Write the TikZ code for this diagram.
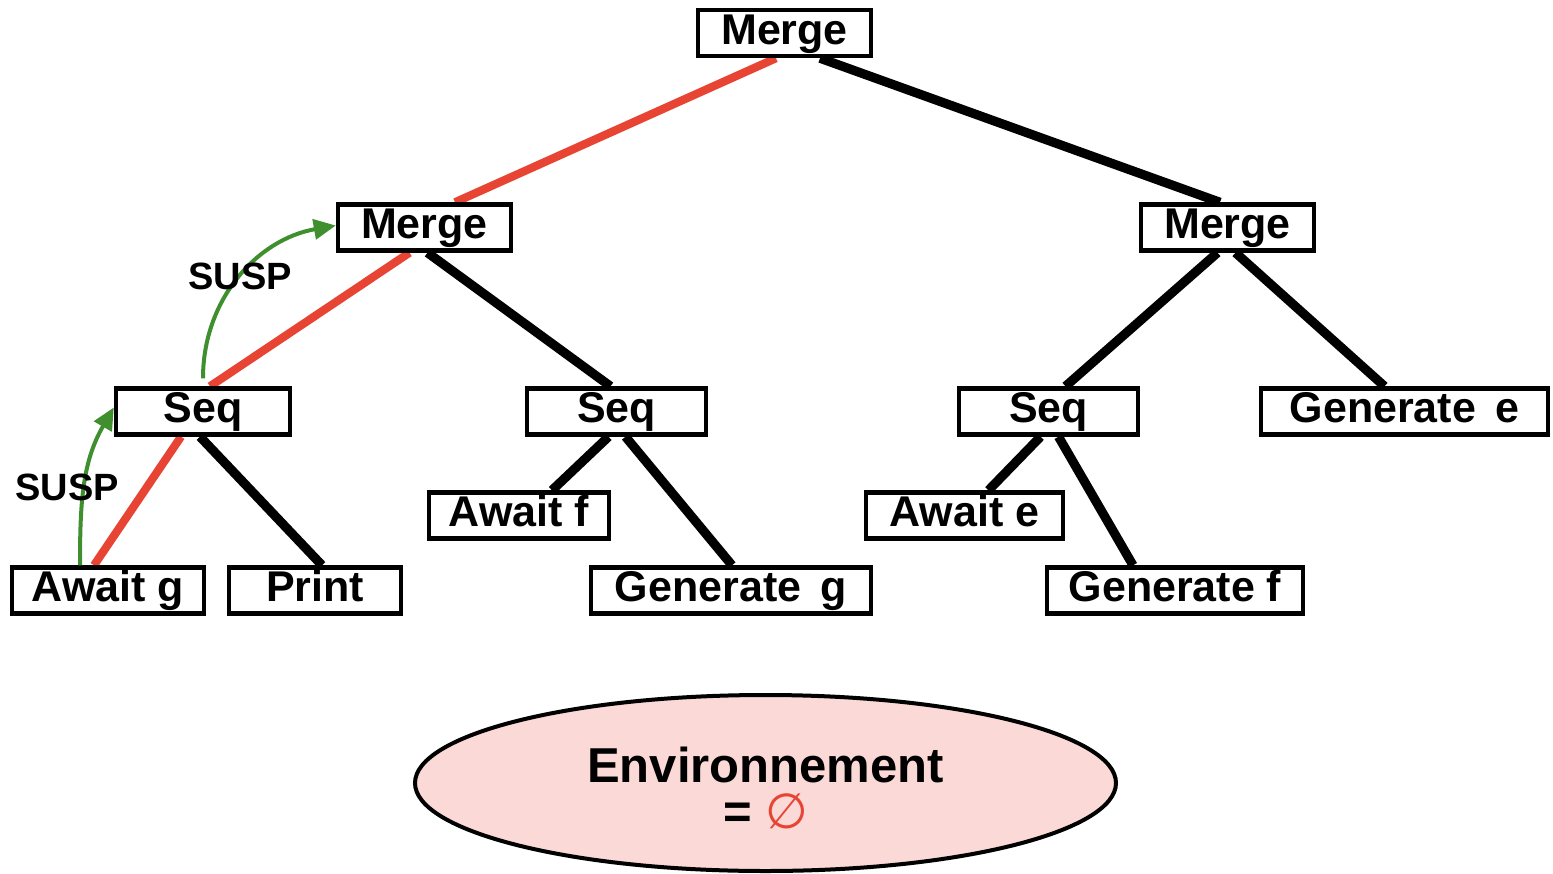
\documentclass[tikz,border=0pt]{standalone}
\usepackage{fontspec}
\setmainfont{Liberation Sans}
\newfontfamily\symfont{DejaVu Sans}
\usetikzlibrary{shapes.geometric,arrows.meta,calc,backgrounds}
\definecolor{edgered}{HTML}{E84434}
\definecolor{suspgreen}{HTML}{3F8F2F}
\definecolor{envpink}{HTML}{FAD9D7}
\begin{document}
\begin{tikzpicture}[x=0.5pt,y=-0.5pt,
  box/.style={draw, line width=2.2pt, fill=white, inner sep=0pt,
    minimum height=23pt, text height=16pt, text depth=5pt,
    font=\bfseries\fontsize{21.5}{24}\selectfont},
  treeedge/.style={line width=4.6pt},
  hotedge/.style={line width=4.1pt, draw=edgered},
  susp/.style={line width=2pt, draw=suspgreen, -{Triangle[length=11pt,width=10pt]}},
  susplabel/.style={inner sep=0pt, font=\bfseries\fontsize{19}{22}\selectfont},
  env/.style={ellipse, draw, line width=2pt, fill=envpink, inner sep=0pt,
    minimum width=350.5pt, minimum height=88pt, align=center,
    font=\bfseries\fontsize{24.5}{23}\selectfont}]
\useasboundingbox (0,0) rectangle (1553,873);

% nodes
\node[box, minimum width=86.5pt] (mt) at (784.5,33) {Merge};
\node[box, minimum width=86.5pt] (ml) at (424.5,227.5) {Merge};
\node[box, minimum width=86.5pt] (mr) at (1227.5,227.5) {Merge};
\node[box, minimum width=87pt] (s1) at (203,411.5) {Seq};
\node[box, minimum width=89.5pt] (s2) at (616.5,411.5) {Seq};
\node[box, minimum width=89.5pt] (s3) at (1048.5,411.5) {Seq};
\node[box, minimum width=143.5pt] (ge) at (1404.5,411.5) {Generate\hspace{0.45em}e};
\node[box, minimum width=96pt] (ag) at (108,590.5) {Await g};
\node[box, minimum width=86pt] (pr) at (315,590.5) {Print};
\node[box, minimum width=90pt] (af) at (519,515.5) {Await f};
\node[box, minimum width=140pt] (gg) at (731,590.5) {Generate\hspace{0.45em}g};
\node[box, minimum width=98.5pt] (ae) at (964.5,515.5) {Await e};
\node[box, minimum width=128pt] (gf) at (1175,590.5) {Generate f};

\node[env] (env) at (765.5,783) {\rule{0pt}{23pt}Environnement\\= {\mdseries\symfont\color{edgered}∅}};

% tree edges
\begin{scope}[on background layer]
\draw[hotedge] ($(mt.south)+(-8.5,0)$) -- ($(ml.north)+(30.5,0)$);
\draw[treeedge] ($(mt.south)+(35.5,0)$) -- ($(mr.north)+(-7.5,0)$);
\draw[hotedge] ($(ml.south)+(-15,0)$) -- ($(s1.north)+(7,0)$);
\draw[treeedge] ($(ml.south)+(3,0)$) -- ($(s2.north)+(-6,0)$);
\draw[hotedge] ($(s1.south)+(-22,0)$) -- ($(ag.north)+(-14,0)$);
\draw[treeedge] ($(s1.south)+(-3,0)$) -- ($(pr.north)+(7,0)$);
\draw[treeedge] ($(s2.south)+(-8,0)$) -- ($(af.north)+(33,0)$);
\draw[treeedge] ($(s2.south)+(9,0)$) -- ($(gg.north)+(1,0)$);
\draw[treeedge] ($(mr.south)+(-10,0)$) -- ($(s3.north)+(17,0)$);
\draw[treeedge] ($(mr.south)+(8,0)$) -- ($(ge.north)+(-20,0)$);
\draw[treeedge] ($(s3.south)+(-8,0)$) -- ($(ae.north)+(24,0)$);
\draw[treeedge] ($(s3.south)+(10,0)$) -- ($(gf.north)+(-42,0)$);
\end{scope}

% suspension arrows
\draw[susp] ($(ag.north)+(-28,0)$) to[out=90,in=240] ($(s1.west)+(0,-4)$);
\draw[susp] ($(s1.north)+(0,-8)$) to[out=90,in=190] ($(ml.west)+(0,-2)$);
\node[susplabel] (l1) at (67,487) {SUSP};
\node[susplabel] (l2) at (240,276) {SUSP};
\end{tikzpicture}
\end{document}
